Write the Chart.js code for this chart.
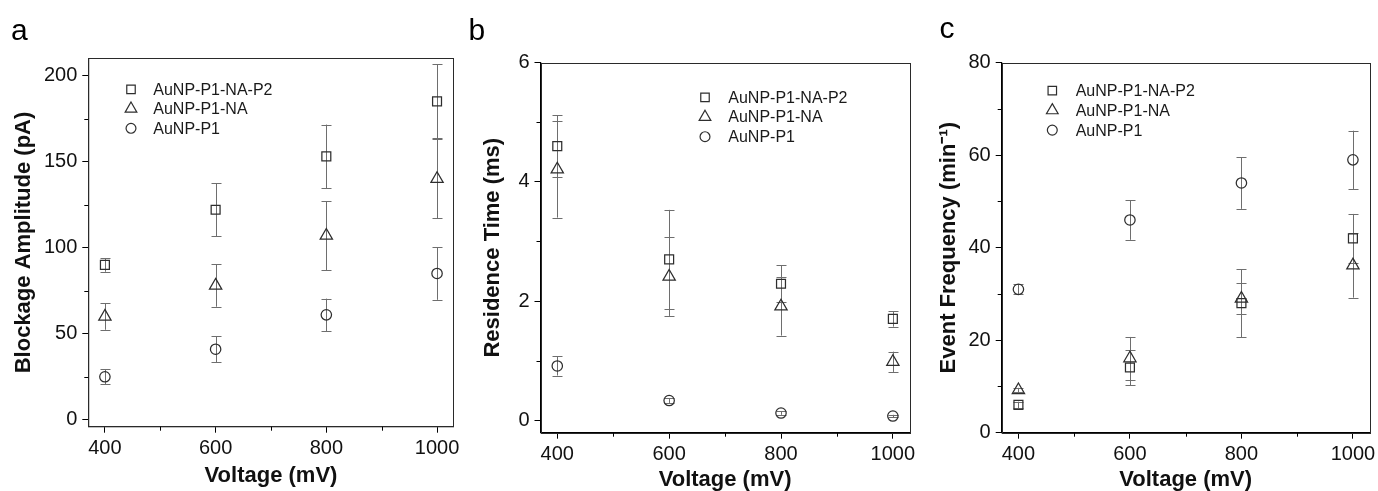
<!DOCTYPE html>
<html><head><meta charset="utf-8">
<script src="https://cdn.jsdelivr.net/npm/chart.js@4.4.0/dist/chart.umd.min.js"></script>
<style>
html,body{margin:0;padding:0;background:#fff;width:1378px;height:491px;overflow:hidden;position:relative;}
canvas{position:absolute;top:0;}
.lbl{position:absolute;font-family:"Liberation Sans",Arial,sans-serif;font-size:30px;line-height:30px;color:#000;z-index:2;}
</style></head><body>
<canvas id="ca" width="462" height="491" style="left:0px"></canvas>
<canvas id="cb" width="456" height="491" style="left:462px"></canvas>
<canvas id="cc" width="460" height="491" style="left:918px"></canvas>
<div class="lbl" style="left:11px;top:14.6px">a</div>
<div class="lbl" style="left:468.5px;top:14.6px">b</div>
<div class="lbl" style="left:939.5px;top:12.9px">c</div>
<script>
// ---------- data ----------
const voltages = [400, 600, 800, 1000];
const xTickValues = [400, 600, 800, 1000];
const xTickLabels = ['400', '600', '800', '1000'];
const xMinorTicks = [500, 700, 900];
const seriesNames = ['AuNP-P1-NA-P2', 'AuNP-P1-NA', 'AuNP-P1'];

// panel a: blockage amplitude (pA)
const ampP1NAP2 = [90, 122, 153, 185];
const ampP1NAP2Err = [4, 15.5, 18.5, 21.5];
const ampP1NA = [60, 78, 107, 140];
const ampP1NAErr = [7.7, 12.3, 20, 23];
const ampP1 = [25, 41, 61, 85];
const ampP1Err = [4.3, 7.5, 9.4, 15.3];
const ampTicks = [0, 50, 100, 150, 200];
const ampMinor = [25, 75, 125, 175];

// panel b: residence time (ms)
const resP1NAP2 = [4.6, 2.7, 2.29, 1.7];
const resP1NAP2Err = [0.52, 0.83, 0.31, 0.13];
const resP1NA = [4.21, 2.41, 1.91, 0.98];
const resP1NAErr = [0.81, 0.66, 0.49, 0.17];
const resP1 = [0.91, 0.33, 0.12, 0.07];
const resP1Err = [0.16, 0.04, 0.03, 0.02];
const resTicks = [0, 2, 4, 6];
const resMinor = [1, 3, 5];

// panel c: event frequency (min^-1)
const freqP1NAP2 = [6, 14.1, 28, 42];
const freqP1NAP2Err = [0.7, 3.8, 7.35, 5.3];
const freqP1NA = [9.2, 16.1, 29, 36.2];
const freqP1NAErr = [0.5, 4.6, 3.4, 7];
const freqP1 = [31, 46, 54, 59];
const freqP1Err = [1.1, 4.3, 5.6, 6.3];
const freqTicks = [0, 20, 40, 60, 80];
const freqMinor = [10, 30, 50, 70];

// ---------- styles ----------
const FONT = '"Liberation Sans", Arial, sans-serif';
const markerStyles = ['rect', 'triangle', 'circle'];
const markerRadii = [6.3, 7.1, 5.2];
const markerColor = '#2e2e2e';
const errColor = '#6e6e6e';

const extrasPlugin = {
  id: 'panelExtras',
  beforeDatasetsDraw(chart) {
    const ctx = chart.ctx, xs = chart.scales.x, ys = chart.scales.y;
    ctx.save();
    ctx.strokeStyle = errColor;
    ctx.lineWidth = 1;
    chart.data.datasets.forEach(ds => {
      ds.data.forEach((p, i) => {
        const e = ds.errors[i];
        const px = Math.round(xs.getPixelForValue(p.x)) + 0.5;
        const y1 = ys.getPixelForValue(p.y + e), y2 = ys.getPixelForValue(p.y - e);
        ctx.beginPath();
        ctx.moveTo(px, y1); ctx.lineTo(px, y2);
        ctx.moveTo(px - 5, Math.round(y1) + 0.5); ctx.lineTo(px + 5, Math.round(y1) + 0.5);
        ctx.moveTo(px - 5, Math.round(y2) + 0.5); ctx.lineTo(px + 5, Math.round(y2) + 0.5);
        ctx.stroke();
      });
    });
    ctx.restore();
  },
  afterDraw(chart, args, opts) {
    const ctx = chart.ctx, a = chart.chartArea, xs = chart.scales.x, ys = chart.scales.y;
    ctx.save();
    // frame
    ctx.strokeStyle = '#2a2a2a';
    ctx.lineWidth = 1;
    ctx.strokeRect(Math.round(a.left) + 0.5, Math.round(a.top) + 0.5, Math.round(a.right - a.left), Math.round(a.bottom - a.top));
    // minor ticks
    ctx.strokeStyle = '#000';
    ctx.beginPath();
    opts.xMinor.forEach(v => {
      const px = Math.round(xs.getPixelForValue(v)) + 0.5;
      ctx.moveTo(px, a.bottom); ctx.lineTo(px, a.bottom + 4);
    });
    opts.yMinor.forEach(v => {
      const py = Math.round(ys.getPixelForValue(v)) + 0.5;
      ctx.moveTo(a.left, py); ctx.lineTo(a.left - 4, py);
    });
    ctx.stroke();
    // legend
    ctx.font = '16px ' + FONT;
    ctx.textBaseline = 'middle';
    ctx.textAlign = 'left';
    chart.data.datasets.forEach((ds, i) => {
      const mx = a.left + opts.legendDx;
      const my = a.top + opts.legendDy + i * opts.legendGap;
      ctx.strokeStyle = markerColor;
      ctx.fillStyle = 'rgba(0,0,0,0)';
      ctx.lineWidth = 1.2;
      Chart.helpers.drawPoint(ctx, {pointStyle: ds.pointStyle, radius: ds.pointRadius * 0.95, borderWidth: 1.2, rotation: 0}, mx, my);
      ctx.fillStyle = '#1a1a1a';
      ctx.fillText(ds.label, mx + opts.legendTextDx, my + 1);
    });
    ctx.restore();
  }
};

function makePanel(id, series, errs, yMin, yMax, yTicks, yMinor, yTitle, lay) {
  const datasets = series.map((vals, k) => ({
    label: seriesNames[k],
    data: voltages.map((v, i) => ({x: v, y: vals[i]})),
    errors: errs[k],
    pointStyle: markerStyles[k],
    pointRadius: markerRadii[k],
    pointBorderWidth: 1.25,
    borderColor: markerColor,
    backgroundColor: 'rgba(0,0,0,0)',
    showLine: false
  }));
  new Chart(document.getElementById(id), {
    type: 'scatter',
    data: {datasets},
    plugins: [extrasPlugin],
    options: {
      responsive: false,
      animation: false,
      events: [],
      layout: {padding: {left: 0, right: lay.padRight, top: lay.padTop, bottom: 0}},
      plugins: {
        legend: {display: false},
        tooltip: {enabled: false},
        panelExtras: {xMinor: xMinorTicks, yMinor: yMinor, legendDx: lay.legDx, legendDy: lay.legDy, legendGap: lay.legGap, legendTextDx: lay.legTextDx}
      },
      scales: {
        x: {
          type: 'linear', position: 'bottom', min: 370, max: 1030,
          afterBuildTicks: s => { s.ticks = xTickValues.map(v => ({value: v})); },
          afterFit: s => { s.height = lay.xH; s.paddingLeft = 0; s.paddingRight = 0; },
          border: {display: true, color: '#000', width: 1.2},
          grid: {drawOnChartArea: false, drawTicks: true, tickLength: 6, tickColor: '#000', tickWidth: 1},
          ticks: {
            padding: 4, color: '#111', font: {family: FONT, size: 20},
            maxRotation: 0, autoSkip: false,
            callback: (v, i) => xTickLabels[i]
          },
          title: {display: true, text: 'Voltage (mV)', color: '#111',
            font: {family: FONT, size: 22, weight: 'bold', lineHeight: 1},
            padding: {top: 0, bottom: lay.xTitlePad}}
        },
        y: {
          type: 'linear', position: 'left', min: yMin, max: yMax,
          afterBuildTicks: s => { s.ticks = yTicks.map(v => ({value: v})); },
          afterFit: s => { s.width = lay.yW; s.paddingTop = 0; s.paddingBottom = 0; },
          border: {display: true, color: '#000', width: 1.2},
          grid: {drawOnChartArea: false, drawTicks: true, tickLength: 6, tickColor: '#000', tickWidth: 1},
          ticks: {padding: 5, color: '#111', font: {family: FONT, size: 20}, autoSkip: false,
            callback: (v, i) => String(yTicks[i])},
          title: {display: true, text: yTitle, color: '#111',
            font: {family: FONT, size: 22, weight: 'bold', lineHeight: 1},
            padding: {top: lay.yTitlePad, bottom: 0}}
        }
      }
    }
  });
}

makePanel('ca', [ampP1NAP2, ampP1NA, ampP1], [ampP1NAP2Err, ampP1NAErr, ampP1Err],
  -4, 210, ampTicks, ampMinor, 'Blockage Amplitude (pA)',
  {padRight: 5.3, padTop: 58.3, xH: 64.3, yW: 88.3, xTitlePad: 4, yTitlePad: 12.5,
   legDx: 42.7, legDy: 31, legGap: 19.5, legTextDx: 22.3});

makePanel('cb', [resP1NAP2, resP1NA, resP1], [resP1NAP2Err, resP1NAErr, resP1Err],
  -0.21, 6, resTicks, resMinor, 'Residence Time (ms)',
  {padRight: 8, padTop: 62.7, xH: 58.3, yW: 78.5, xTitlePad: 0, yTitlePad: 19.5,
   legDx: 164.5, legDy: 34.6, legGap: 19.7, legTextDx: 23.3});

makePanel('cc', [freqP1NAP2, freqP1NA, freqP1], [freqP1NAP2Err, freqP1NAErr, freqP1Err],
  0, 80, freqTicks, freqMinor, 'Event Frequency (min\u207B\u00B9)',
  {padRight: 7.3, padTop: 62.7, xH: 58.3, yW: 83.7, xTitlePad: 0, yTitlePad: 20,
   legDx: 50.6, legDy: 28, legGap: 19.7, legTextDx: 23.4});
</script>
</body></html>
